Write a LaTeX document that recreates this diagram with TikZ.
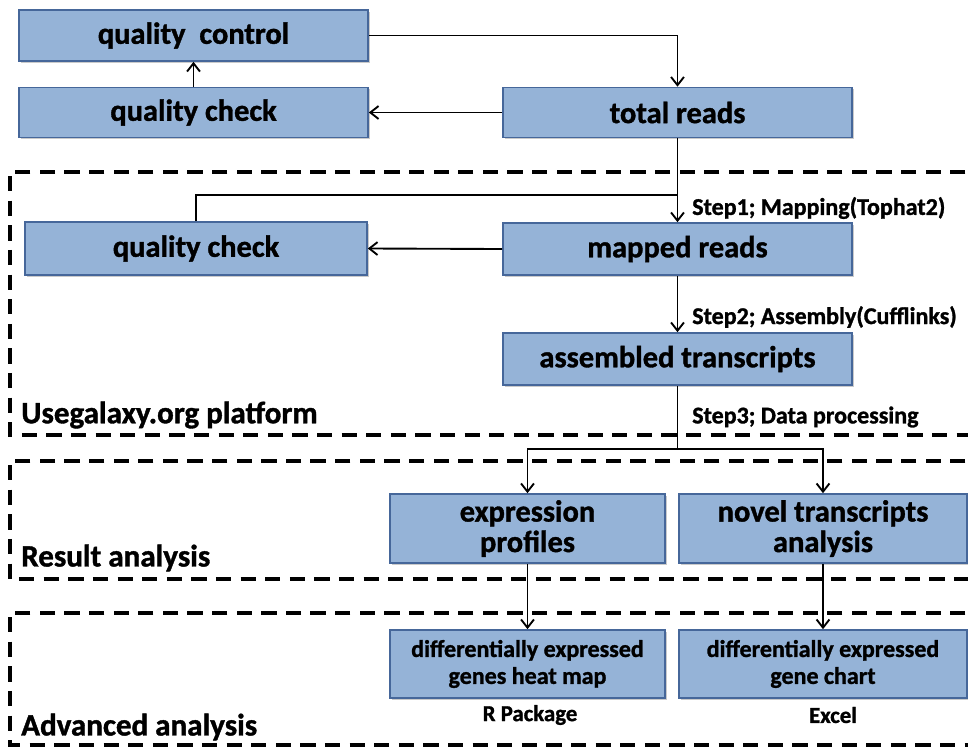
\documentclass[tikz,border=0pt]{standalone}
\usepackage{fontspec}
\setmainfont{Carlito}[BoldFeatures={FakeBold=1.2}]
\usetikzlibrary{arrows.meta,shadows}
\definecolor{boxfill}{HTML}{95B3D7}
\definecolor{boxline}{HTML}{46679A}

\begin{document}
\begin{tikzpicture}[x=0.03cm,y=-0.03cm,
  box/.style={draw=boxline, fill=boxfill, line width=1.4pt, inner sep=0pt, align=center,
    font=\bfseries\fontsize{26}{26}\selectfont,
    drop shadow={shadow xshift=1.6pt, shadow yshift=-1.6pt, opacity=0.35, fill=black!60}},
  smallbox/.style={box, font=\bfseries\fontsize{20.5}{23}\selectfont},
  flow/.style={line width=1.6pt, -{Straight Barb[length=7pt,width=11pt]}},
  zone/.style={line width=2.6pt, dash pattern=on 13pt off 8pt},
  zonelabel/.style={anchor=west, inner sep=0pt, font=\bfseries\fontsize{26.5}{28}\selectfont},
  steplabel/.style={anchor=west, inner sep=0pt, font=\bfseries\fontsize{20.5}{22}\selectfont}]

  \clip (0,0) rectangle (968,748);

  % dashed areas, open on the right
  \draw [zone] (990,172) -| (10,435) -- (990,435);
  \draw [zone] (990,461) -| (10,579) -- (990,579);
  \draw [zone] (990,613) -| (10,745) -- (990,745);

  \node [zonelabel] (platform) at (21,415) {Usegalaxy.org platform};
  \node [zonelabel] (result) at (21,558) {Result analysis};
  \node [zonelabel] (advanced) at (21,727) {Advanced analysis};

  % boxes
  \node [box, minimum width=10.47cm, minimum height=1.53cm] (qc) at (193.5,35.5) {quality\ \ control};
  \node [box, minimum width=10.47cm, minimum height=1.5cm] (qcheck) at (193.5,112.5) {quality check};
  \node [box, minimum width=10.47cm, minimum height=1.5cm] (total) at (677.5,112.5) {total reads};
  \node [box, minimum width=10.26cm, minimum height=1.59cm] (mcheck) at (196,248.5) {quality check};
  \node [box, minimum width=10.47cm, minimum height=1.56cm] (mapped) at (677.5,249) {mapped reads};
  \node [box, minimum width=10.47cm, minimum height=1.56cm] (assembled) at (677.5,359) {assembled transcripts};
  \node [box, minimum width=8.25cm, minimum height=2.07cm] (expr) at (527.5,528.5) {expression\\profiles};
  \node [box, minimum width=8.64cm, minimum height=2.07cm] (novel) at (823,528.5) {novel transcripts\\analysis};
  \node [smallbox, minimum width=8.25cm, minimum height=2.04cm] (heat) at (527.5,664) {differentially expressed\\genes heat map};
  \node [smallbox, minimum width=8.64cm, minimum height=2.04cm] (chart) at (823,664) {differentially expressed\\gene chart};

  \node [steplabel] (step1) at (692,208) {Step1; Mapping(Tophat2)};
  \node [steplabel] (step2) at (692,317) {Step2; Assembly(Cufflinks)};
  \node [steplabel] (step3) at (692,417) {Step3; Data processing};
  \node [font=\bfseries\fontsize{19.5}{21}\selectfont, inner sep=0pt] (rpack) at (530,715) {R Package};
  \node [font=\bfseries\fontsize{19.5}{21}\selectfont, inner sep=0pt] (excel) at (833,715) {Excel};

  \coordinate (split1) at (677.5,195);
  \coordinate (split2) at (677.5,449);

  % connectors
  \draw [flow] (qc.east) -| (total.north);
  \draw [flow] (qcheck.north) -- (qc.south);
  \draw [flow] (total.west) -- (qcheck.east);
  \draw [flow] (total.south) -- (mapped.north);
  \draw [line width=1.6pt] (mcheck.north) |- (split1);
  \draw [flow] (mapped.west) -- (mcheck.east);
  \draw [flow] (mapped.south) -- (assembled.north);
  \draw [line width=1.6pt] (assembled.south) -- (split2);
  \draw [flow] (split2) -| (expr.north);
  \draw [flow] (split2) -| (novel.north);
  \draw [flow] (expr.south) -- (heat.north);
  \draw [flow] (novel.south) -- (chart.north);

\end{tikzpicture}
\end{document}
